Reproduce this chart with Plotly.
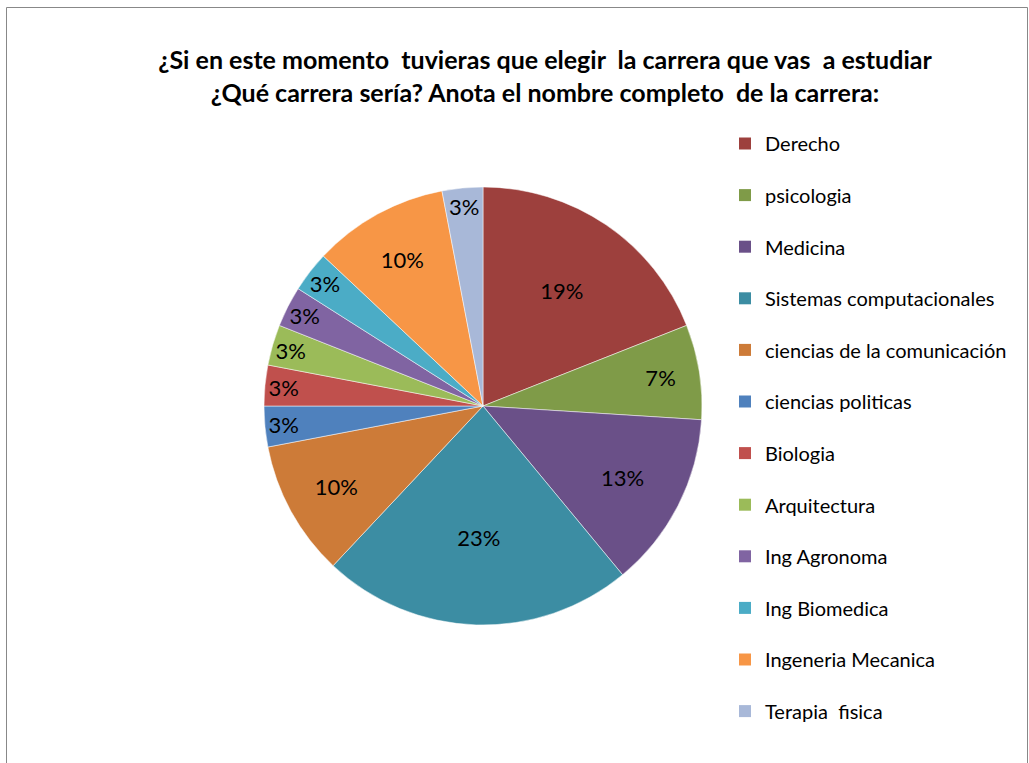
import plotly.graph_objects as go

categories = ["Derecho", "psicologia", "Medicina", "Sistemas computacionales",
              "ciencias de la comunicación", "ciencias politicas", "Biologia",
              "Arquitectura", "Ing Agronoma", "Ing Biomedica", "Ingeneria Mecanica",
              "Terapia  fisica"]
percents = [19, 7, 13, 23, 10, 3, 3, 3, 3, 3, 10, 3]
colors = ["#9D403D", "#7F9B48", "#6A5088", "#3C8DA3", "#CD7B38", "#4F81BD",
          "#C0504D", "#9BBB59", "#8064A2", "#4BACC6", "#F79646", "#A8B8D8"]

W, H = 1029, 763
cx, cy, r = 483, 406, 219

fig = go.Figure()
fig.add_trace(go.Pie(
    labels=categories, values=percents, sort=False, direction="clockwise",
    rotation=0, marker=dict(colors=colors, line=dict(color="white", width=0.5)),
    textinfo="percent", texttemplate="%{percent:.0%}", textposition="inside",
    insidetextorientation="horizontal",
    textfont=dict(family="Lato", size=22, color="black"),
    domain=dict(x=[(cx - r) / W, (cx + r) / W], y=[1 - (cy + r) / H, 1 - (cy - r) / H]),
    showlegend=False, hoverinfo="label+percent",
))
for c, col in zip(categories, colors):
    fig.add_trace(go.Scatter(
        x=[None], y=[None], mode="markers", name=c, legendgroup=c,
        marker=dict(symbol="square", size=11, color=col), showlegend=True,
    ))

fig.update_layout(
    width=W, height=H, margin=dict(l=0, r=0, t=0, b=0),
    paper_bgcolor="white", plot_bgcolor="white",
    xaxis=dict(visible=False), yaxis=dict(visible=False),
    uniformtext=dict(minsize=22, mode="show"),
    title=dict(
        text="¿Si en este momento  tuvieras que elegir  la carrera que vas  a estudiar<br>¿Qué carrera sería? Anota el nombre completo  de la carrera:",
        x=545 / W, xanchor="center", y=1 - 69 / H, yanchor="top",
        font=dict(family="Lato", size=25, color="black", weight="bold"),
    ),
    legend=dict(
        x=725 / W, xanchor="left", y=1 - 124 / H, yanchor="top",
        font=dict(family="Lato", size=20, color="black"),
        tracegroupgap=22.6, itemsizing="constant", bgcolor="rgba(0,0,0,0)",
    ),
    shapes=[dict(type="rect", xref="paper", yref="paper",
                 x0=6.5 / W, x1=1027.5 / W, y0=-0.05, y1=1 - 7.5 / H,
                 line=dict(color="#888888", width=1))],
)

fig.write_html("out.html", config={"displayModeBar": False},
               post_script="document.body.style.margin='0';document.body.style.overflow='hidden';")
